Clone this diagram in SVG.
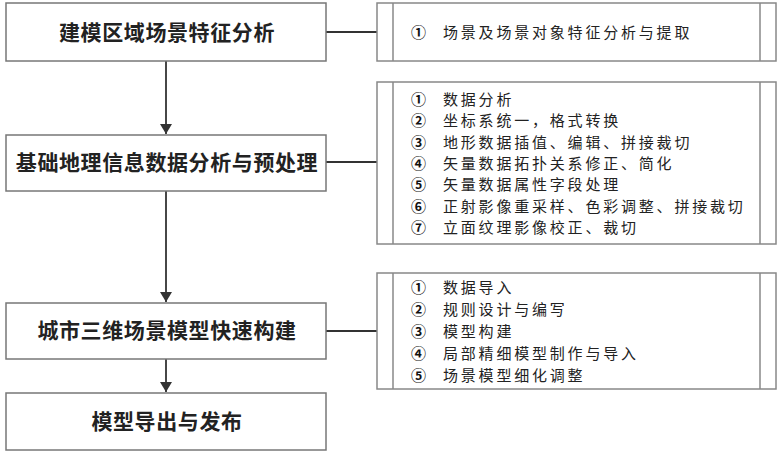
<svg xmlns="http://www.w3.org/2000/svg" width="781" height="454" viewBox="0 0 781 454">
<style>
.box{fill:#fff;stroke:#777;stroke-width:1.5}
.rbox{fill:#fff;stroke:#888;stroke-width:1.5}
.ln{stroke:#333;stroke-width:1.8;fill:none}
.t{font-family:"Noto Sans CJK SC","Liberation Serif",sans-serif;font-size:21px;font-weight:bold;fill:#222;text-anchor:middle;letter-spacing:0.6px}
.s{font-family:"Noto Sans CJK SC","Liberation Sans",sans-serif;font-size:15px;fill:#222;letter-spacing:2.8px}
.n{font-family:"Noto Sans CJK SC",serif;font-size:15px;fill:#111;font-weight:bold}
</style>
<defs>
<marker id="ah" viewBox="0 0 10 12" refX="10" refY="6" markerWidth="10" markerHeight="12" markerUnits="userSpaceOnUse" orient="auto">
<path d="M0,0 L10,6 L0,12 z" fill="#333"/>
</marker>
</defs>
<g id="connectors">
<line class="ln" x1="166" y1="61" x2="166" y2="134" marker-end="url(#ah)"/>
<line class="ln" x1="166" y1="191" x2="166" y2="302" marker-end="url(#ah)"/>
<line class="ln" x1="166" y1="359" x2="166" y2="392" marker-end="url(#ah)"/>
<line class="ln" x1="326" y1="32" x2="377" y2="32"/>
<line class="ln" x1="326" y1="162" x2="377" y2="162"/>
<line class="ln" x1="326" y1="331" x2="377" y2="331"/>
</g>
<g id="n1">
<rect class="box" x="6" y="3" width="320" height="58"/>
<text class="t" x="167" y="40">建模区域场景特征分析</text>
</g>
<g id="n2">
<rect class="box" x="6" y="135" width="320" height="56"/>
<text class="t" x="167" y="170">基础地理信息数据分析与预处理</text>
</g>
<g id="n3">
<rect class="box" x="6" y="303" width="320" height="56"/>
<text class="t" x="167" y="338">城市三维场景模型快速构建</text>
</g>
<g id="n4">
<rect class="box" x="6" y="393" width="320" height="57"/>
<text class="t" x="167" y="429">模型导出与发布</text>
</g>
<g id="r1">
<rect class="rbox" x="377" y="3" width="399" height="58"/>
<line class="rbox" x1="393" y1="3" x2="393" y2="61"/>
<line class="rbox" x1="760" y1="3" x2="760" y2="61"/>
<text class="n" x="411" y="38">①</text>
<text class="s" x="443" y="38">场景及场景对象特征分析与提取</text>
</g>
<g id="r2">
<rect class="rbox" x="377" y="82" width="399" height="162"/>
<line class="rbox" x1="393" y1="82" x2="393" y2="244"/>
<line class="rbox" x1="760" y1="82" x2="760" y2="244"/>
<text class="n" x="411" y="105">①</text><text class="s" x="443" y="105">数据分析</text>
<text class="n" x="411" y="126">②</text><text class="s" x="443" y="126">坐标系统一，格式转换</text>
<text class="n" x="411" y="148">③</text><text class="s" x="443" y="148">地形数据插值、编辑、拼接裁切</text>
<text class="n" x="411" y="169">④</text><text class="s" x="443" y="169">矢量数据拓扑关系修正、简化</text>
<text class="n" x="411" y="190">⑤</text><text class="s" x="443" y="190">矢量数据属性字段处理</text>
<text class="n" x="411" y="212">⑥</text><text class="s" x="443" y="212">正射影像重采样、色彩调整、拼接裁切</text>
<text class="n" x="411" y="233">⑦</text><text class="s" x="443" y="233">立面纹理影像校正、裁切</text>
</g>
<g id="r3">
<rect class="rbox" x="377" y="273" width="399" height="116"/>
<line class="rbox" x1="393" y1="273" x2="393" y2="389"/>
<line class="rbox" x1="760" y1="273" x2="760" y2="389"/>
<text class="n" x="411" y="293">①</text><text class="s" x="443" y="293">数据导入</text>
<text class="n" x="411" y="315">②</text><text class="s" x="443" y="315">规则设计与编写</text>
<text class="n" x="411" y="337">③</text><text class="s" x="443" y="337">模型构建</text>
<text class="n" x="411" y="359">④</text><text class="s" x="443" y="359">局部精细模型制作与导入</text>
<text class="n" x="411" y="381">⑤</text><text class="s" x="443" y="381">场景模型细化调整</text>
</g>
</svg>
